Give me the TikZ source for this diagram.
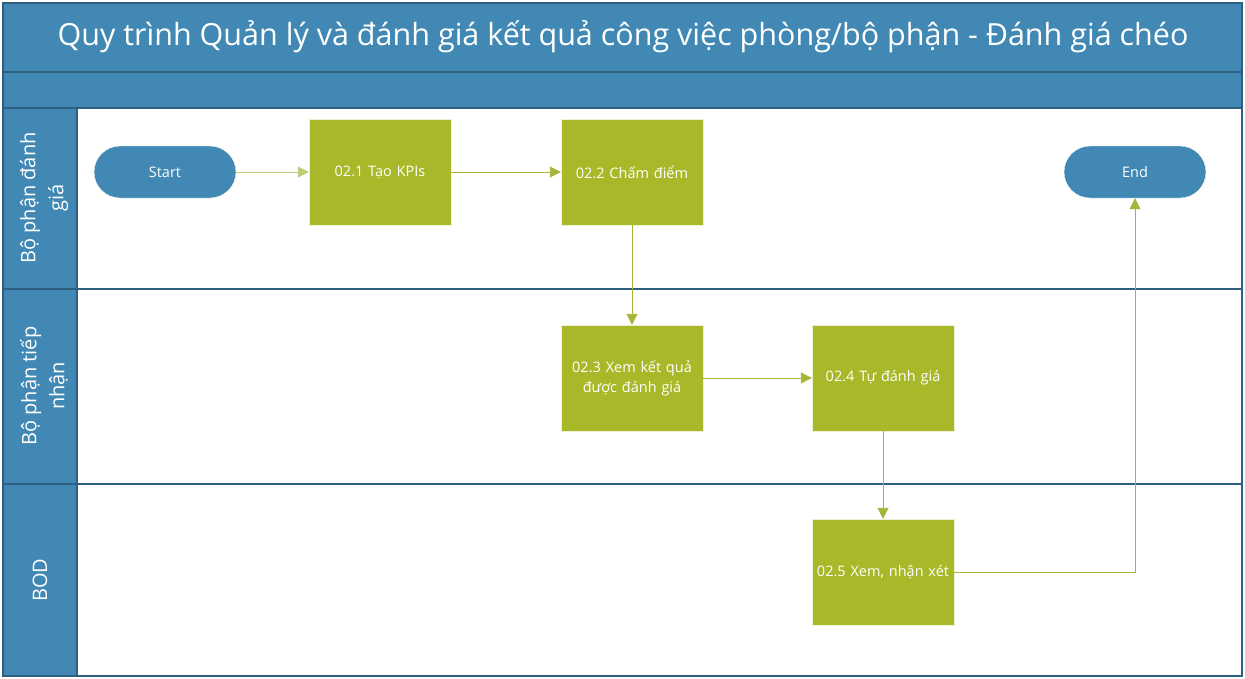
\documentclass[tikz,border=0pt]{standalone}
\usepackage{fontspec}
\setmainfont{Open Sans}
\usetikzlibrary{arrows.meta}
\definecolor{laneblue}{HTML}{4189B4}
\definecolor{laneedge}{HTML}{2E5F7E}
\definecolor{stepgreen}{HTML}{A8B828}
\definecolor{flowgreen}{HTML}{A6B53A}
\begin{document}
\begin{tikzpicture}[x=1pt,y=-1pt,
    lanehead/.style={fill=laneblue,draw=laneedge,line width=1.2pt},
    lanebody/.style={fill=white,draw=laneedge,line width=1.2pt},
    terminal/.style={fill=laneblue,draw=white,rounded corners=26pt,
      minimum width=142pt,minimum height=52pt,inner sep=0pt,text=white,
      font=\fontsize{14.5}{17}\selectfont},
    task/.style={fill=stepgreen,draw=white!80!stepgreen,minimum width=142pt,
      minimum height=106pt,inner sep=1pt,text=white,align=center,
      text width=140pt,font=\fontsize{14.5}{20}\selectfont},
    flow/.style={draw=flowgreen,line width=0.9pt,
      -{Triangle[length=11pt,width=11pt]}},
    lanelabel/.style={rotate=90,text=white,align=center,
      font=\fontsize{20}{28}\selectfont}]
  \useasboundingbox (0,0) rectangle (1245,678);

  % Title band
  \draw[lanehead] (3,3) rectangle (1242,72);
  \node[text=white,font=\fontsize{30.5}{34}\selectfont] (title) at (623,37)
    {Quy trình Quản lý và đánh giá kết quả công việc phòng/bộ phận - Đánh giá chéo};
  \draw[lanehead] (3,72) rectangle (1242,108);

  % Lanes
  \foreach \top/\bot in {108/289, 289/484, 484/676}{
      \draw[lanebody] (77,\top) rectangle (1242,\bot);
      \draw[lanehead] (3,\top) rectangle (77,\bot);
    }
  \node[lanelabel] (lane1) at (44,198) {Bộ phận đánh\\giá};
  \node[lanelabel] (lane2) at (44,386) {Bộ phận tiếp\\nhận};
  \node[lanelabel] (lane3) at (40,580) {BOD};

  % Steps
  \node[terminal] (start) at (165,172) {Start};
  \node[task] (s1) at (380,172) {02.1 Tạo KPIs};
  \node[task] (s2) at (632,172) {02.2 Chấm điểm};
  \node[task] (s3) at (632,378) {02.3 Xem kết quả\\được đánh giá};
  \node[task] (s4) at (883,378) {02.4 Tự đánh giá};
  \node[task] (s5) at (883,572) {02.5 Xem, nhận xét};
  \node[terminal] (end) at (1135,172) {End};

  % Connectors
  \draw[flow,draw=flowgreen!70] (start) -- (s1);
  \draw[flow] (s1) -- (s2);
  \draw[flow] (s2) -- (s3);
  \draw[flow] (s3) -- (s4);
  \draw[flow] (s4) -- (s5);
  \draw[flow] (s5.east) -| (end.south);
\end{tikzpicture}
\end{document}
